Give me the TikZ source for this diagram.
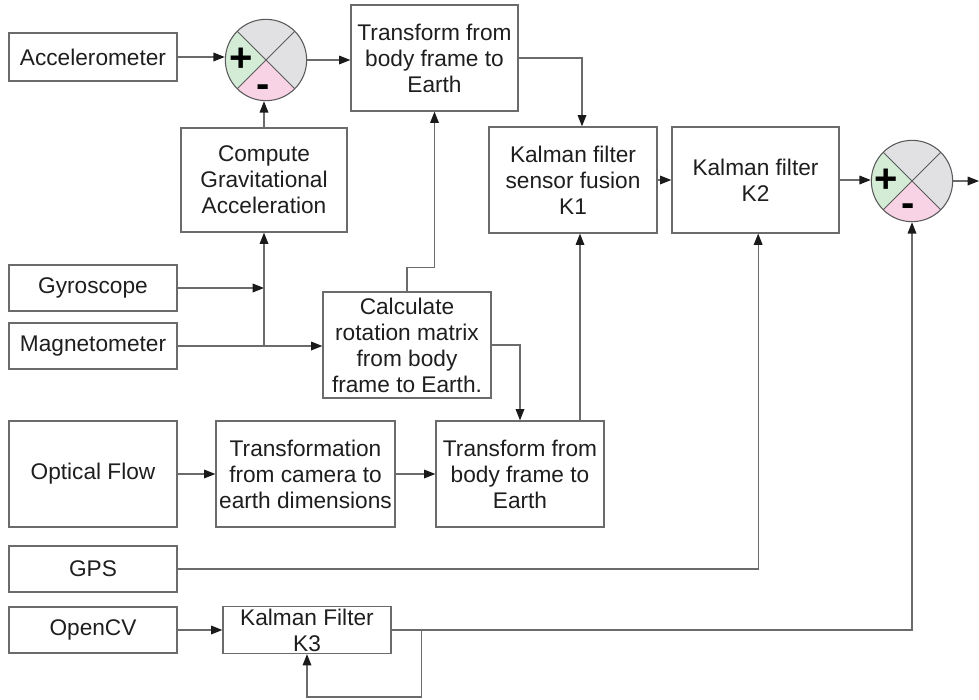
\documentclass[tikz,border=0pt]{standalone}
\usepackage{fontspec}
\setmainfont{Liberation Sans}
\usetikzlibrary{arrows.meta,calc}
\definecolor{edge}{HTML}{6B6B6B}
\definecolor{ink}{HTML}{1E1E1E}
\definecolor{tipc}{HTML}{1A1A1A}
\definecolor{sgreen}{HTML}{D4ECD6}
\definecolor{spink}{HTML}{F8D3E5}
\definecolor{sgray}{HTML}{E1E1E3}
\definecolor{sring}{HTML}{5A5A5A}
\begin{document}
\begin{tikzpicture}[x=0.75pt,y=-0.75pt,
  box/.style 2 args={draw=edge, line width=0.9pt, inner sep=0pt, align=center,
    text=ink, font=\fontsize{17}{19.5}\selectfont,
    minimum width=#1*0.75pt, minimum height=#2*0.75pt},
  wire/.style={draw=edge, line width=0.9pt},
  arr/.style={wire, -{Triangle[length=8.5pt,width=6.5pt,color=tipc]}},
  sumnode/.style={circle, draw=sring, line width=0.8pt, minimum size=61pt,
    inner sep=0pt,
    path picture={
      \coordinate (pc) at (path picture bounding box.center);
      \fill[sgray] (pc) circle (40pt);
      \fill[sgreen] (pc) -- +(135:50pt) -- +(225:50pt) -- cycle;
      \fill[spink] (pc) -- +(225:50pt) -- +(315:50pt) -- cycle;
      \draw[sring, line width=0.7pt] (pc) +(45:40pt) -- +(225:40pt)
        (pc) +(135:40pt) -- +(315:40pt);
    }},
  sign/.style={text=black, inner sep=0pt,
    font=\fontsize{30}{30}\selectfont\bfseries}
]
\useasboundingbox (0,0) rectangle (979,700);

% sensor and processing blocks
\node[box={168}{48}]  (acc)  at (93,57)     {Accelerometer};
\node[box={167}{106}] (tf1)  at (434.5,58)  {Transform from\\body frame to\\Earth};
\node[box={166}{104}] (grav) at (264,180)   {Compute\\Gravitational\\Acceleration};
\node[box={168}{106}] (k1)   at (573,180)   {Kalman filter\\sensor fusion\\K1};
\node[box={167}{106}] (k2)   at (755.5,180) {Kalman filter\\K2};
\node[box={168}{46}]  (gyro) at (93,288)    {Gyroscope};
\node[box={168}{46}]  (mag)  at (93,346)    {Magnetometer};
\node[box={168}{106}] (calc) at (407,345)   {Calculate\\rotation matrix\\from body\\frame to Earth.};
\node[box={168}{106}] (of)   at (93,474)    {Optical Flow};
\node[box={179}{106}] (tcam) at (305.5,474) {Transformation\\from camera to\\earth dimensions};
\node[box={168}{106}] (tf2)  at (520,474)   {Transform from\\body frame to\\Earth};
\node[box={168}{46}]  (gps)  at (93,569)    {GPS};
\node[box={168}{46}]  (ocv)  at (93,630)    {OpenCV};
\node[box={168}{47}]  (k3)   at (307,630)   {Kalman Filter\\K3};

% summing junctions
\node[sumnode] (sum1) at (266,60) {};
\node[sign] (p1) at ([xshift=-18.5pt]sum1.center) {+};
\node[sign] (m1) at ([xshift=-2pt,yshift=-23pt]sum1.center) {-};
\node[sumnode] (sum2) at (912,181) {};
\node[sign] (p2) at ([xshift=-19pt]sum2.center) {+};
\node[sign] (m2) at ([xshift=-3pt,yshift=-22pt]sum2.center) {-};

\coordinate (out) at (979,181);
\coordinate (fbt) at ($(k3.east)+(30,0)$);
\coordinate (fbb) at ($(k3.east)+(30,67)$);

% connectors
\draw[arr] (acc.east) -- (acc.east -| sum1.west);
\draw[arr] (sum1.east) -- (sum1.east -| tf1.west);
\draw[arr] (tf1.east) -| ([xshift=6.75pt]k1.north);
\draw[arr] (grav.north) -- (grav.north |- sum1.south);
\draw[arr] (gyro.east) -- (gyro.east -| grav.south);
\draw[arr] (mag.east) -- (mag.east -| calc.west);
\draw[arr] (mag.east -| grav.south) -- (grav.south);
\draw[arr] (calc.north) -- ++(0,-24) -| (tf1.south);
\draw[arr] (calc.east) -| (tf2.north);
\draw[arr] ([xshift=45pt]tf2.north) -- ([xshift=45pt]tf2.north |- k1.south);
\draw[arr] (of.east) -- (tcam.west);
\draw[arr] (tcam.east) -- (tf2.west);
\draw[arr] (k1.east) -- (k2.west);
\draw[arr] (k2.east) -- (k2.east -| sum2.west);
\draw[arr] (sum2.east) -- (out);
\draw[arr] (gps.east) -| ([xshift=2pt]k2.south);
\draw[arr] (ocv.east) -- (ocv.east -| k3.west);
\draw[arr] (k3.east) -| (sum2.south);
\draw[arr] (fbt) -- (fbb) -| (k3.south);
\end{tikzpicture}
\end{document}
